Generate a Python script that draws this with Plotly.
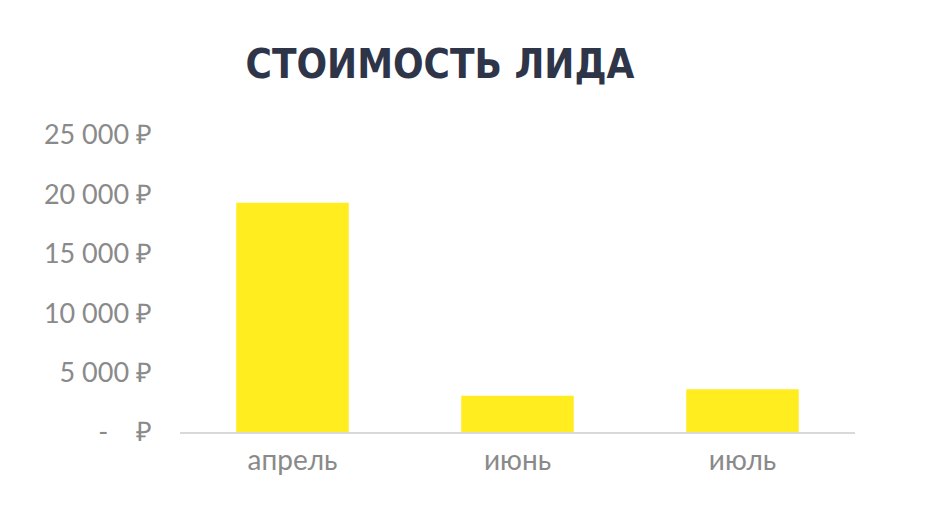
import plotly.graph_objects as go

months = ["апрель", "июнь", "июль"]
lead_cost = [19300, 3050, 3600]
tick_values = [0, 5000, 10000, 15000, 20000, 25000]
tick_labels = ["-    ₽", "5 000 ₽", "10 000 ₽", "15 000 ₽", "20 000 ₽", "25 000 ₽"]

fig = go.Figure(
    data=[
        go.Bar(
            x=months,
            y=lead_cost,
            marker_color="#ffed1f",
            marker_line_width=0,
        )
    ]
)
fig.update_layout(
    width=937,
    height=515,
    paper_bgcolor="white",
    plot_bgcolor="white",
    margin=dict(l=172, r=90, t=127, b=91),
    bargap=0.5,
    showlegend=False,
    title=dict(
        text="СТОИМОСТЬ ЛИДА",
        x=0.461,
        xanchor="center",
        y=0.891,
        yanchor="middle",
        font=dict(
            family="DejaVu Sans Condensed, Liberation Sans Narrow, sans-serif",
            size=40,
            color="#2f3549",
            weight="bold",
        ),
    ),
)
fig.update_xaxes(
    showline=True,
    linecolor="#d9d9d9",
    linewidth=2,
    showgrid=False,
    ticks="",
    ticklabelstandoff=2,
    tickfont=dict(family="Lato", size=28, color="#8a8a8a"),
)
fig.update_yaxes(
    range=[0, 25000],
    tickvals=tick_values,
    ticktext=tick_labels,
    showgrid=False,
    zeroline=False,
    showline=False,
    ticks="",
    ticklabelstandoff=27,
    tickfont=dict(family="Lato", size=27, color="#8a8a8a"),
)

fig.write_html("out.html")
